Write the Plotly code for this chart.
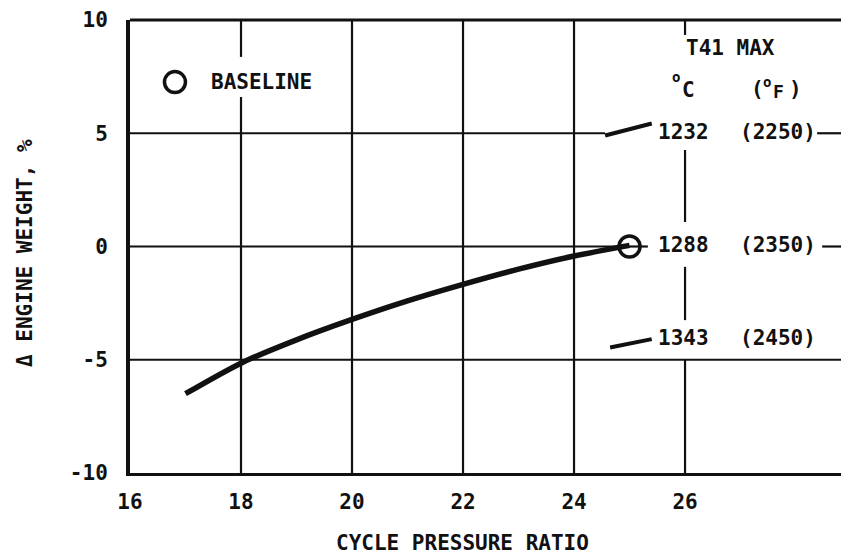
import plotly.graph_objects as go

# Engine weight change vs. cycle pressure ratio
pressure_ratio = [17, 18, 19, 20, 21, 22, 23, 24, 25]
delta_weight = [-6.5, -5.15, -4.12, -3.22, -2.4, -1.67, -1.0, -0.42, 0.05]

# Baseline design point
baseline_x = [25.0]
baseline_y = [0.0]

# T41 max temperature labels
t41_c = ["1232", "1288", "1343"]
t41_f = ["(2250)", "(2350)", "(2450)"]
t41_label_y = [5.06, 0.07, -4.04]

# Leader strokes for the non-baseline temperatures
leader_1232_x = [24.56, 25.4]
leader_1232_y = [4.9, 5.43]
leader_1343_x = [24.65, 25.4]
leader_1343_y = [-4.46, -4.09]

x_ticks = [16, 18, 20, 22, 24, 26]
y_ticks = [-10, -5, 0, 5, 10]
x_range = [16, 28.81]
y_range = [-10, 10]

FONT = "DejaVu Sans Mono"
INK = "#111111"
FS = 21
WEIGHT = "bold"

fig = go.Figure()

# grid segments (broken where labels sit)
grid_h = [
    (16, 24.56, 5), (28.38, 28.81, 5),
    (16, 25.0, 0), (25.0, 25.33, 0), (28.47, 28.81, 0),
    (16, 28.81, -5),
    (16, 28.81, 10),
]
grid_v = [
    (18, 8.37, 10), (18, -10, 6.6),
    (20, -10, 10), (22, -10, 10), (24, -10, 10),
    (26, 9.34, 10), (26, 1.08, 4.26), (26, -3.25, -0.9), (26, -10, -5),
]
for x0, x1, y in grid_h:
    fig.add_shape(type="line", xref="x", yref="y", x0=x0, x1=x1, y0=y, y1=y,
                  line=dict(color=INK, width=2.2), layer="below")
for x, y0, y1 in grid_v:
    fig.add_shape(type="line", xref="x", yref="y", x0=x, x1=x, y0=y0, y1=y1,
                  line=dict(color=INK, width=2.2), layer="below")

# main curve
fig.add_trace(go.Scatter(x=pressure_ratio, y=delta_weight, mode="lines",
                         line=dict(color=INK, width=5.5, shape="spline", smoothing=0.8),
                         showlegend=False, hoverinfo="skip"))

# leader strokes
for lx, ly in ((leader_1232_x, leader_1232_y), (leader_1343_x, leader_1343_y)):
    fig.add_trace(go.Scatter(x=lx, y=ly, mode="lines",
                             line=dict(color=INK, width=4),
                             showlegend=False, hoverinfo="skip"))

# baseline point
fig.add_trace(go.Scatter(x=baseline_x, y=baseline_y, mode="markers",
                         marker=dict(symbol="circle-open", size=21, color=INK,
                                     line=dict(width=3.5, color=INK)),
                         showlegend=False, hoverinfo="skip"))

# legend key for baseline
fig.add_trace(go.Scatter(x=[16.81], y=[7.26], mode="markers",
                         marker=dict(symbol="circle-open", size=21, color=INK,
                                     line=dict(width=3.5, color=INK)),
                         showlegend=False, hoverinfo="skip"))

annotations = [
    dict(x=17.45, y=7.26, text="BASELINE"),
    dict(x=26.0, y=8.76, text="T41 MAX"),
    # unit headings: degree mark drawn as a small raised "o"
    dict(x=25.74, y=7.5, text="o", size=14),
    dict(x=25.93, y=6.93, text="C", size=21),
    dict(x=27.17, y=6.95, text="("),
    dict(x=27.38, y=7.25, text="o", size=14),
    dict(x=27.57, y=6.85, text="F", size=18),
    dict(x=27.85, y=6.95, text=")"),
]
for c, f, y in zip(t41_c, t41_f, t41_label_y):
    annotations.append(dict(x=25.5, y=y, text=c))
    annotations.append(dict(x=26.98, y=y, text=f))

for a in annotations:
    size = a.pop("size", FS)
    a.update(xref="x", yref="y", xanchor="left", yanchor="middle",
             showarrow=False, borderpad=0,
             font=dict(family=FONT, size=size, color=INK, weight=WEIGHT))

annotations.append(dict(xref="paper", yref="paper", x=0.468, y=-0.1545,
                        text="CYCLE PRESSURE RATIO", showarrow=False,
                        xanchor="center", yanchor="middle",
                        font=dict(family=FONT, size=FS, color=INK, weight=WEIGHT)))
annotations.append(dict(xref="paper", yref="paper", x=-0.1477, y=0.4857,
                        text="\u0394 ENGINE WEIGHT, %", showarrow=False,
                        textangle=-90, xanchor="center", yanchor="middle",
                        font=dict(family=FONT, size=FS, color=INK, weight=WEIGHT)))

fig.update_layout(
    width=841, height=559,
    margin=dict(l=130, r=0, t=20, b=86),
    paper_bgcolor="white", plot_bgcolor="white",
    font=dict(family=FONT, size=FS, color=INK, weight=WEIGHT),
    annotations=annotations,
    xaxis=dict(range=x_range, tickvals=x_ticks, ticktext=[str(v) for v in x_ticks],
               showgrid=False, zeroline=False, showline=True, linecolor=INK,
               linewidth=3, mirror=False, ticks="", ticklabelstandoff=8,
               fixedrange=True),
    yaxis=dict(range=y_range, tickvals=y_ticks, ticktext=[str(v) for v in y_ticks],
               showgrid=False, zeroline=False, showline=True, linecolor=INK,
               linewidth=4, ticks="", ticklabelstandoff=14, fixedrange=True),
)
# top border
fig.add_shape(type="line", xref="paper", yref="paper", x0=0, x1=1, y0=1, y1=1,
              line=dict(color=INK, width=3))

fig.write_html("out.html")
